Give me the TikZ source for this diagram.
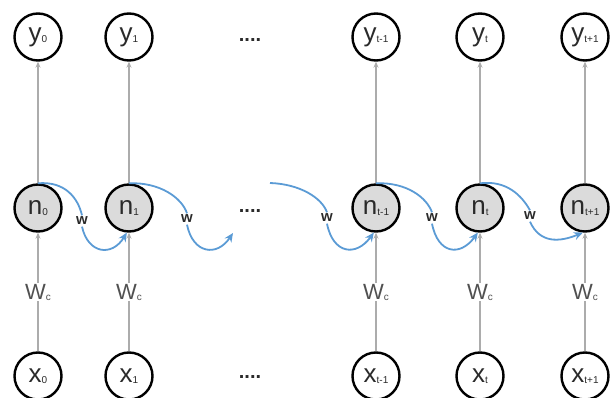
\documentclass[tikz,border=0pt]{standalone}
\usepackage{fontspec}
\setmainfont{Liberation Sans}
\usetikzlibrary{arrows.meta}
\definecolor{rnnblue}{HTML}{5B9BD5}
\definecolor{txtgray}{HTML}{2A2A2A}
\definecolor{wcgray}{HTML}{505050}
\newcommand\sbs[1]{\raisebox{-1pt}{\fontsize{10}{10}\selectfont #1}}
\tikzset{
  unit/.style={circle, draw=black, line width=2.4pt, minimum size=47pt, inner sep=0pt,
    font=\fontsize{26}{26}\selectfont, text=txtgray},
  hid/.style={unit, fill=gray!28},
  conn/.style={draw=gray!65, line width=1.6pt},
  connarr/.style={conn, -{Stealth[length=6pt,width=5pt]}},
  rec/.style={draw=rnnblue, line width=1.8pt},
  recarr/.style={rec, -{Stealth[length=9pt,width=8pt]}},
  wlab/.style={font=\bfseries\fontsize{15}{15}\selectfont, text=txtgray, inner sep=1.5pt},
  wclab/.style={font=\fontsize{22}{22}\selectfont, text=wcgray, inner sep=1pt},
  dots/.style={font=\bfseries\fontsize{20}{20}\selectfont, text=txtgray, inner sep=0pt}
}
\begin{document}
\begin{tikzpicture}[x=1pt,y=-1pt]
\useasboundingbox (0,0) rectangle (614,398);
\clip (0,0) rectangle (614,398);
% output nodes
\node[unit] (y0) at (38,37) {y\sbs{0}};
\node[unit] (y1) at (129,37) {y\sbs{1}};
\node[unit] (y2) at (376,37) {y\sbs{t-1}};
\node[unit] (y3) at (480,37) {y\sbs{t}};
\node[unit] (y4) at (585,37) {y\sbs{t+1}};
% hidden nodes
\node[hid] (n0) at (38,208) {n\sbs{0}};
\node[hid] (n1) at (129,208) {n\sbs{1}};
\node[hid] (n2) at (376,208) {n\sbs{t-1}};
\node[hid] (n3) at (480,208) {n\sbs{t}};
\node[hid] (n4) at (585,208) {n\sbs{t+1}};
% input nodes
\node[unit] (x0) at (38,376) {x\sbs{0}};
\node[unit] (x1) at (129,376) {x\sbs{1}};
\node[unit] (x2) at (376,376) {x\sbs{t-1}};
\node[unit] (x3) at (480,376) {x\sbs{t}};
\node[unit] (x4) at (585,376) {x\sbs{t+1}};
% Wc labels
\foreach \i/\xx in {0/38,1/129,2/376,3/480,4/585}{
  \node[wclab] (wc\i) at (\xx,292) {W\sbs{c}};
}
% dots
\node[dots] (d1) at (250,40) {....};
\node[dots] (d2) at (250,211) {....};
\node[dots] (d3) at (250,377) {....};
% gray connectors
\foreach \i in {0,...,4}{
  \draw[connarr] (n\i.north) -- (y\i.south);
  \draw[conn] (x\i.north) -- (wc\i.south);
  \draw[connarr] (wc\i.north) -- (n\i.south);
}
% w labels
\node[wlab] (w0) at (82,221) {w};
\node[wlab] (w1) at (187,219) {w};
\node[wlab] (w2) at (327,218) {w};
\node[wlab] (w3) at (432,218) {w};
\node[wlab] (w4) at (530,216) {w};
\coordinate (e1) at (233,233);
\coordinate (s2) at (270,183);
% recurrent connections
\draw[rec] (n0.north) .. controls (65,181) and (78,198) .. (w0.north);
\draw[recarr] (w0.south) .. controls (88,254) and (112,257) .. (n1.-95);
\draw[rec] (n1.north) .. controls (160,182) and (182,198) .. (w1.north);
\draw[recarr] (w1.south) .. controls (193,254) and (217,257) .. (e1);
\draw[rec] (s2) .. controls (300,184) and (322,198) .. (w2.north);
\draw[recarr] (w2.south) .. controls (333,254) and (356,257) .. (n2.-95);
\draw[rec] (n2.north) .. controls (407,182) and (427,198) .. (w3.north);
\draw[recarr] (w3.south) .. controls (438,254) and (460,257) .. (n3.-95);
\draw[rec] (n3.north) .. controls (507,180) and (522,196) .. (w4.north);
\draw[recarr] (w4.south) .. controls (540,244) and (560,242) .. (n4.-95);
\end{tikzpicture}
\end{document}
